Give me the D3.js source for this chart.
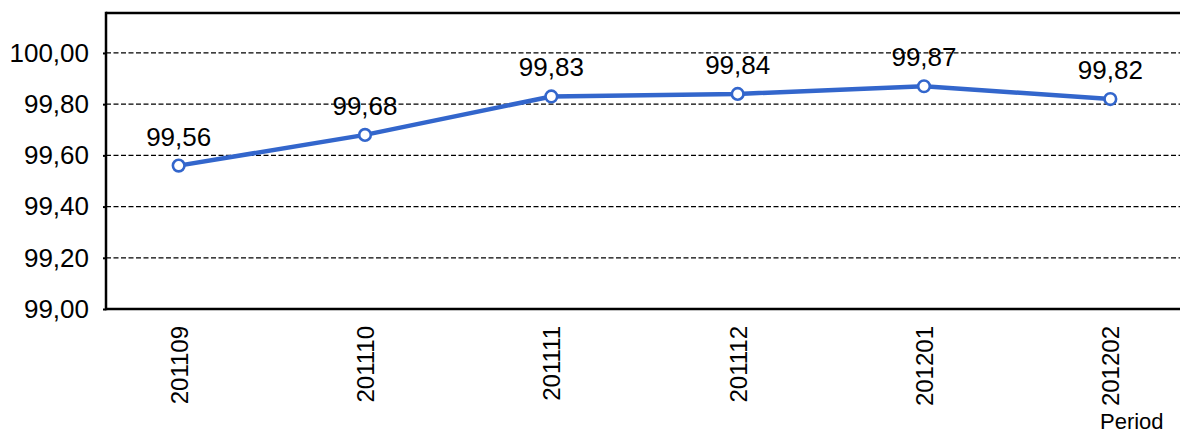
<!DOCTYPE html>
<html>
<head>
<meta charset="utf-8">
<script src="https://cdn.jsdelivr.net/npm/d3@7"></script>
<style>
  html, body { margin: 0; padding: 0; background: #fff; }
  svg { display: block; font-family: "Liberation Sans", Arial, sans-serif; }
</style>
</head>
<body>
<svg id="chart" width="1180" height="433"></svg>
<script>
const categories = ["201109", "201110", "201111", "201112", "201201", "201202"];
const values = [99.56, 99.68, 99.83, 99.84, 99.87, 99.82];
const yTicks = [99.0, 99.2, 99.4, 99.6, 99.8, 100.0];
const xAxisTitle = "Period";

const svg = d3.select("#chart");
const plotLeft = 106, plotTop = 13, plotBottom = 309, plotRight = 1183;

const x = d3.scalePoint().domain(categories).range([plotLeft, plotRight]).padding(0.39);
const y = d3.scaleLinear().domain([99, 100.156]).range([plotBottom, plotTop]);

const fmt = v => v.toFixed(2).replace(".", ",");

// gridlines
svg.append("g").selectAll("line").data(yTicks.filter(t => t > 99)).join("line")
  .attr("x1", plotLeft).attr("x2", 1180)
  .attr("y1", d => y(d)).attr("y2", d => y(d))
  .attr("stroke", "#000").attr("stroke-width", 1.3)
  .attr("stroke-dasharray", "5,2.5");

// y axis
const yAxis = svg.append("g").attr("transform", `translate(${plotLeft},0)`)
  .call(d3.axisLeft(y).tickValues(yTicks).tickFormat(fmt).tickSize(3).tickPadding(14));
yAxis.select(".domain").remove();
yAxis.selectAll(".tick line").attr("stroke", "#000").attr("stroke-width", 2);
yAxis.selectAll(".tick text").attr("font-size", 26).attr("fill", "#000")
  .attr("font-family", "Liberation Sans, Arial, sans-serif");

// frame lines
svg.append("line").attr("x1", plotLeft).attr("x2", plotLeft).attr("y1", plotTop - 1.25).attr("y2", plotBottom + 1.25)
  .attr("stroke", "#000").attr("stroke-width", 2.5);
svg.append("line").attr("x1", plotLeft).attr("x2", 1180).attr("y1", plotTop).attr("y2", plotTop)
  .attr("stroke", "#000").attr("stroke-width", 2.5);
svg.append("line").attr("x1", plotLeft).attr("x2", 1180).attr("y1", plotBottom).attr("y2", plotBottom)
  .attr("stroke", "#000").attr("stroke-width", 2.5);

// x axis labels
const xAxis = svg.append("g").attr("transform", `translate(0,${plotBottom})`)
  .call(d3.axisBottom(x).tickSize(0).tickPadding(0));
xAxis.select(".domain").remove();
xAxis.selectAll(".tick text")
  .attr("font-size", 24).attr("fill", "#000")
  .attr("font-family", "Liberation Sans, Arial, sans-serif")
  .attr("text-anchor", "end")
  .attr("transform", "rotate(-90)")
  .attr("x", -17).attr("y", 0).attr("dy", "0.35em");

// axis title
svg.append("text").attr("x", 1100).attr("y", 429)
  .attr("font-size", 22).attr("fill", "#000").text(xAxisTitle);

// line
const pts = categories.map((c, i) => [x(c), y(values[i])]);
svg.append("path").datum(pts)
  .attr("d", d3.line())
  .attr("fill", "none").attr("stroke", "#3366CC").attr("stroke-width", 4.5)
  .attr("stroke-linejoin", "round");

svg.append("g").selectAll("circle").data(pts).join("circle")
  .attr("cx", d => d[0]).attr("cy", d => d[1]).attr("r", 5.8)
  .attr("fill", "#fff").attr("stroke", "#3366CC").attr("stroke-width", 2.6);

// data labels
svg.append("g").selectAll("text").data(categories).join("text")
  .attr("x", d => x(d)).attr("y", (d, i) => y(values[i]) - 20)
  .attr("text-anchor", "middle").attr("font-size", 26).attr("fill", "#000")
  .text((d, i) => fmt(values[i]));
</script>
</body>
</html>
